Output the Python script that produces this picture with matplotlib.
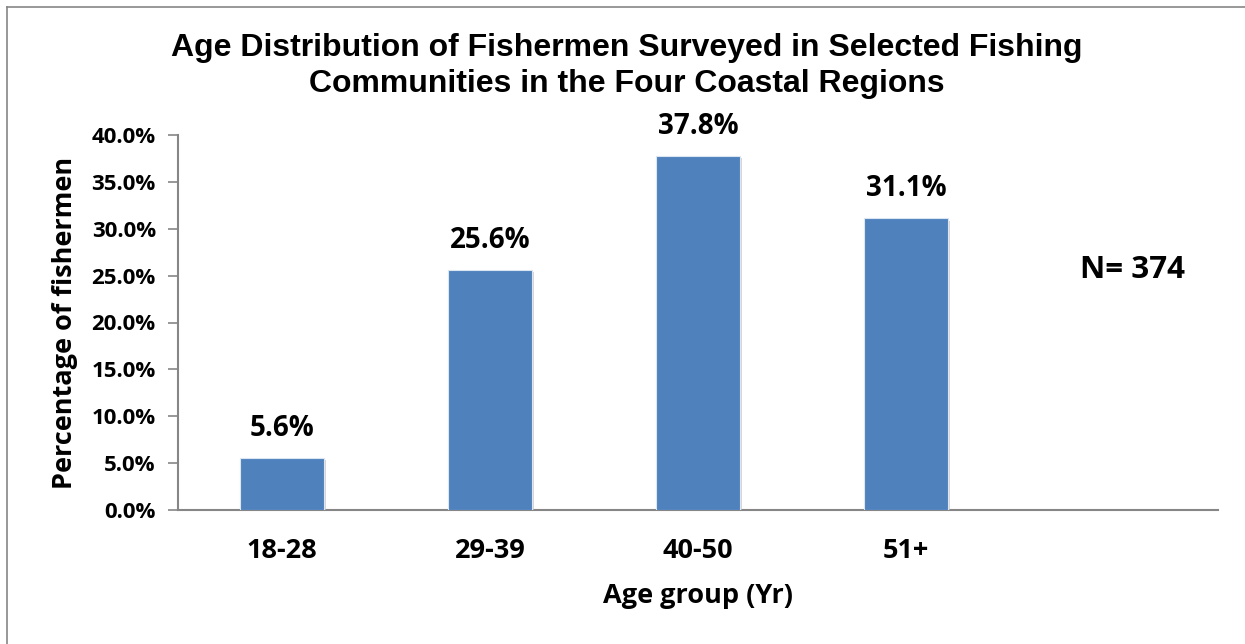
import matplotlib
matplotlib.use("Agg")
import matplotlib.pyplot as plt
import matplotlib.patheffects as pe

categories = ["18-28", "29-39", "40-50", "51+", ""]
values = [5.6, 25.6, 37.8, 31.1, None]
yticks = [0, 5, 10, 15, 20, 25, 30, 35, 40]

fig = plt.figure(figsize=(12.45, 6.44), dpi=100)
ax = fig.add_axes([178/1245, 1-510/644, (1218-178)/1245, (510-135)/644])

xs = list(range(len(categories)))
bx = [x for x, v in zip(xs, values) if v is not None]
bv = [v for v in values if v is not None]
bars = ax.bar(bx, bv, width=0.4, color="#4F81BD", edgecolor="#dce6f2", linewidth=0.8, zorder=3)
for b in bars:
    b.set_path_effects([pe.SimplePatchShadow(offset=(1.5, -1.5), shadow_rgbFace="#bbbbbb", alpha=0.6), pe.Normal()])

lbl_font = dict(family="Open Sans", fontweight="bold")
for x, v in zip(bx, bv):
    ax.text(x, v + 1.6, f"{v:.1f}%", ha="center", va="bottom", fontsize=20, color="#000000", **lbl_font)

ax.set_xlim(-0.5, 4.5)
ax.set_ylim(0, 40)
ax.set_yticks(yticks)
ax.set_yticklabels([f"{t:.1f}%" for t in yticks], fontsize=16, **lbl_font)
ax.set_xticks(xs[:4])
ax.set_xticklabels(categories[:4], fontsize=19.5, **lbl_font)
ax.tick_params(axis="x", length=0, pad=20)
ax.tick_params(axis="y", length=7, width=1.2, color="#868686", pad=9, direction="out")

for s in ["top", "right"]:
    ax.spines[s].set_visible(False)
for s in ["left", "bottom"]:
    ax.spines[s].set_color("#868686")
    ax.spines[s].set_linewidth(1.5)

ax.set_xlabel("Age group (Yr)", fontsize=19.5, labelpad=14, **lbl_font)
ax.set_ylabel("Percentage of fishermen", fontsize=19.5, labelpad=10, **lbl_font)

fig.text(627/1245, 1-66/644, "Age Distribution of Fishermen Surveyed in Selected Fishing\nCommunities in the Four Coastal Regions",
         ha="center", va="center", fontsize=23, family="Liberation Sans", fontweight="bold", linespacing=1.3)
fig.text(1133/1245, 1-270/644, "N= 374", ha="center", va="center", fontsize=22.5, **lbl_font)

# outer border (left and top visible)
fig.add_artist(plt.Line2D([7/1245, 7/1245], [0, 1-7/644], transform=fig.transFigure, color="#868686", lw=1.2))
fig.add_artist(plt.Line2D([7/1245, 1], [1-7/644, 1-7/644], transform=fig.transFigure, color="#868686", lw=1.2))

fig.savefig("out.png", dpi=100)
